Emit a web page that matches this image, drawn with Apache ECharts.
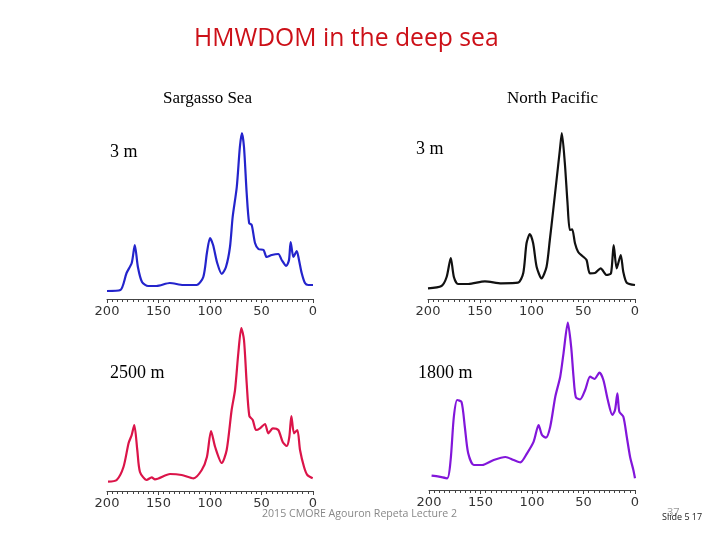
<!DOCTYPE html>
<html><head><meta charset="utf-8">
<script src="https://cdn.jsdelivr.net/npm/echarts@6/dist/echarts.min.js"></script>
<style>html,body{margin:0;padding:0;background:#fff}#c{width:720px;height:540px}</style>
</head><body><div id="c"></div>
<script>
// ppm positions and intensities
var sargasso3mPpm = [200,187,181,176,173,170,166,160,152,139,126,113,106.5,103,100,97,93,88.6,84.5,80.6,78,74,71,69,67,64.4,62,59.5,56.3,53,48,45,40,33.7,30.4,26,23.3,21.7,19,15.8,13.6,11,7.8,4.5,0];
var sargasso3mVal = [8,9,26,36,54,32,17,13,13,16,14,14,22,46,61,54,36,25,32,52,82,112,152,166,152,106,76,74,56,50,49,42,44,45,39,33,39,57,42,48,39,26,16,14,14];
var pacific3mPpm = [200,187,182,178,175,171,161,145,129,113,108,104.8,101.6,98.4,95,90.3,85.5,82.3,79,75.8,72.6,70.7,67.8,65.2,63,60.7,58,54.9,50,46.8,43.6,38.7,33.2,27.4,23.2,20.6,17.7,13.8,11.3,8,0];
var pacific3mVal = [10.7,13,22,41,22,15,15,17.7,15.7,16.3,25.7,55.7,65,55.7,32,20.7,32,59,89,119,149,166,136,96,69,69.7,55.7,47,42.3,39,25.7,26,30.7,24,25.7,54,30.7,44,27,16.3,14];
var sargasso2500Ppm = [199,190.6,184,179,176,173.5,170.6,168,161.5,156.6,153.4,138.8,127.5,116,108,103,99,95,88.6,83.8,79,75.7,72.5,69.6,67,64.4,61.8,58.5,55.3,51.5,46.6,43.4,39,33.7,29.4,25.5,23,21,18.4,15.2,12.6,8.7,5.5,0.3];
var sargasso2500Val = [9.3,11,24,48,56,66,41,19,11,13.7,11.7,17,16,12.7,21,34,60,44,28,41,81,101,138,163,151,108,75,71,61,62.7,67,57.7,62.7,61,49,45,54,75,57.7,61,41,24,16,12.7];
var pacific1800Ppm = [197.5,190.4,182.3,179,175.9,172.6,168.4,165.2,162,156.5,148.4,137.2,125.8,117.8,111.3,104.8,98.4,93.6,90.3,86.5,82.3,77.4,72.6,69.4,65.2,62,59.7,57.4,53.2,48.4,43.6,39.4,34.5,30.7,26.4,22,19.4,17.1,15.2,11.3,8,4.8,1.6,0];
var pacific1800Val = [14.3,13.3,11.7,30,73,90,88,63,37,25,25,30,33,30,27.7,36.7,48.3,65,55,52.3,63.3,93.3,113.3,136.7,167.3,143.3,113.3,92.7,90.7,100,113.3,111,117.3,110,90,75,80,96.7,78.3,73.3,53.3,33.3,20,11.7];
var tickValues = [200,150,100,50,0];

function pairs(p, v){ return p.map(function(x,i){ return [x, v[i]]; }); }

var panels = [
  {p: sargasso3mPpm, v: sargasso3mVal, color:'#2424cc', grid:{left:107, top:129, width:206, height:170}},
  {p: pacific3mPpm, v: pacific3mVal, color:'#111111', grid:{left:428, top:129, width:207, height:170}},
  {p: sargasso2500Ppm, v: sargasso2500Val, color:'#db1449', grid:{left:107, top:321, width:206, height:170}},
  {p: pacific1800Ppm, v: pacific1800Val, color:'#8216da', grid:{left:429, top:320, width:206, height:170}}
];

var grids=[], xAxes=[], yAxes=[], series=[];
panels.forEach(function(pn, i){
  grids.push(pn.grid);
  xAxes.push({
    type:'value', gridIndex:i, min:0, max:200, interval:50, inverse:true,
    axisLine:{show:true, lineStyle:{color:'#444', width:1}},
    axisTick:{show:true, length:4, lineStyle:{color:'#444'}},
    minorTick:{show:true, splitNumber:10, length:3, lineStyle:{color:'#444', width:1}},
    splitLine:{show:false},
    axisLabel:{margin:6, color:'#333', fontSize:13, fontFamily:'DejaVu Sans',
      formatter:function(val){ return tickValues.indexOf(val)>=0 ? String(val) : ''; }}
  });
  yAxes.push({type:'value', gridIndex:i, min:0, max:170, show:false});
  series.push({
    type:'line', xAxisIndex:i, yAxisIndex:i, data:pairs(pn.p, pn.v),
    showSymbol:false, smooth:0.25, clip:false,
    lineStyle:{color:pn.color, width:2.2}, itemStyle:{color:pn.color}
  });
});

var chart = echarts.init(document.getElementById('c'), null, {renderer:'canvas'});
chart.setOption({
  animation:false,
  backgroundColor:'#fff',
  grid:grids, xAxis:xAxes, yAxis:yAxes, series:series,
  graphic:[
    {type:'text', left:194, top:26, style:{text:'HMWDOM in the deep sea', fill:'#cc1018', font:'24.7px "Open Sans"'}},
    {type:'text', left:163, top:90, style:{text:'Sargasso Sea', fill:'#000', font:'17px "Liberation Serif"'}},
    {type:'text', left:507, top:90, style:{text:'North Pacific', fill:'#000', font:'17px "Liberation Serif"'}},
    {type:'text', left:110, top:143, style:{text:'3 m', fill:'#000', font:'18px "Liberation Serif"'}},
    {type:'text', left:416, top:140, style:{text:'3 m', fill:'#000', font:'18px "Liberation Serif"'}},
    {type:'text', left:110, top:364, style:{text:'2500 m', fill:'#000', font:'18px "Liberation Serif"'}},
    {type:'text', left:418, top:364, style:{text:'1800 m', fill:'#000', font:'18px "Liberation Serif"'}},
    {type:'text', left:262, top:508, style:{text:'2015 CMORE Agouron Repeta Lecture 2', fill:'#888', font:'10.6px "Open Sans"'}},
    {type:'text', left:667, top:507, style:{text:'37', fill:'#999', font:'11px "Open Sans"'}},
    {type:'text', left:662, top:513, style:{text:'Slide 5 17', fill:'#222', font:'9px "Open Sans"'}}
  ]
});
</script></body></html>
